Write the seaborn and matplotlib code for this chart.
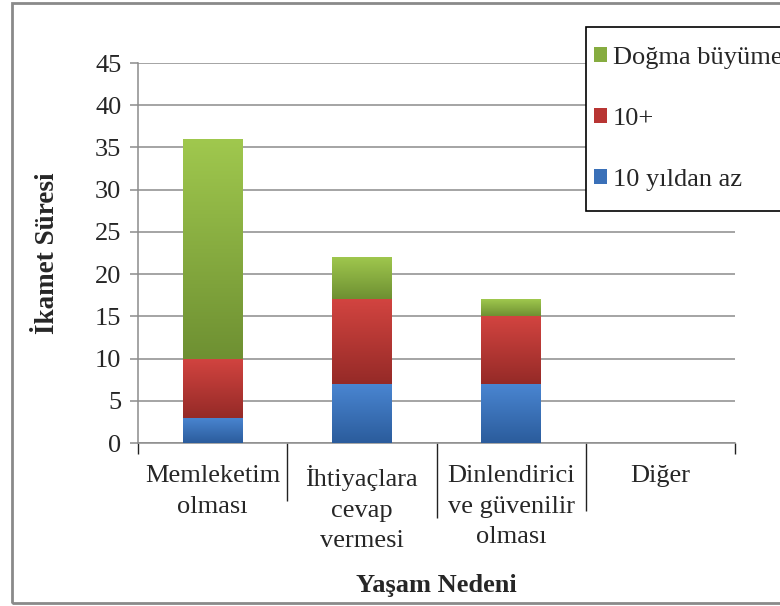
import numpy as np
import pandas as pd
import seaborn as sns
import matplotlib.pyplot as plt
from matplotlib.patches import Patch, Rectangle
from matplotlib.colors import LinearSegmentedColormap

# veriler
categories = ["Memleketim\nolması", "İhtiyaçlara\ncevap\nvermesi",
              "Dinlendirici\nve güvenilir\nolması", "Diğer"]
az_10 = [3, 7, 7, 0]
arti_10 = [7, 10, 8, 0]
dogma = [26, 5, 2, 0]
series_names = ["10 yıldan az", "10+", "Doğma büyüme"]

# renkler: (üst, alt) gradyan
grad_colors = {
    "10 yıldan az": ("#4a86d2", "#2b5c9c"),
    "10+": ("#d24440", "#952a27"),
    "Doğma büyüme": ("#a0c84e", "#6e9032"),
}
legend_colors = {
    "10 yıldan az": "#3a70b8",
    "10+": "#b83533",
    "Doğma büyüme": "#86ac40",
}


def set_config():
    sns.set_style("white")
    plt.rcParams["font.family"] = ["Liberation Serif", "DejaVu Serif"]
    plt.rcParams["axes.unicode_minus"] = False


def add_gradient(ax, patch, top, bottom):
    # bar'ın içini dikey gradyanla doldur
    x0, y0 = patch.get_x(), patch.get_y()
    w, h = patch.get_width(), patch.get_height()
    if h <= 0:
        return
    cmap = LinearSegmentedColormap.from_list("g", [bottom, top])
    grad = np.linspace(0, 1, 256).reshape(-1, 1)
    im = ax.imshow(grad, cmap=cmap, aspect="auto", origin="lower",
                   extent=(x0, x0 + w, y0, y0 + h), zorder=3)
    im.set_clip_path(patch)


def main():
    set_config()
    fig = plt.figure(figsize=(7.8, 6.06), dpi=100)
    ax = fig.add_axes([138 / 780, 1 - 443 / 606, 597 / 780, 380 / 606])

    df = pd.DataFrame({"kategori": categories, "10 yıldan az": az_10,
                       "10+": arti_10, "Doğma büyüme": dogma})
    bottoms = np.zeros(len(categories))
    for name in series_names:
        vals = df[name].to_numpy(dtype=float)
        sns.barplot(x=df["kategori"], y=vals + bottoms, ax=ax, width=0.4,
                    color=grad_colors[name][0], linewidth=0, zorder=2)
        # son çizilen barları kendi segmentine indir
        for p, b, v in zip(ax.patches[-len(categories):], bottoms, vals):
            p.set_y(b)
            p.set_height(v)
            add_gradient(ax, p, *grad_colors[name])
        bottoms = bottoms + vals

    ax.set_xlim(-0.5, len(categories) - 0.5)
    ax.set_ylim(0, 45)
    ax.set_yticks(range(0, 46, 5))
    ax.yaxis.grid(True, color="#8c8c8c", linewidth=1.1)
    ax.set_axisbelow(True)

    for s in ["top", "right"]:
        ax.spines[s].set_visible(False)
    for s in ["left", "bottom"]:
        ax.spines[s].set_color("#8c8c8c")
        ax.spines[s].set_linewidth(1.1)

    ax.tick_params(axis="y", length=6, width=1.1, color="#8c8c8c",
                   labelsize=19, pad=6, left=True)
    ax.tick_params(axis="x", which="major", length=0, labelsize=19, pad=16)
    for lbl in ax.get_xticklabels():
        lbl.set_linespacing(1.5)
        lbl.set_verticalalignment("top")

    # kategori ayırıcı çentikler
    ax.set_xticks(np.arange(-0.5, len(categories), 1), minor=True)
    ax.tick_params(axis="x", which="minor", length=8, width=1.0,
                   color="#222222", bottom=True)
    tick_len = [8, 42, 54, 49, 8]
    for t, L in zip(ax.xaxis.get_minor_ticks(), tick_len):
        t.tick1line.set_markersize(L)

    ax.set_xlabel("Yaşam Nedeni", fontsize=19, fontweight="bold", labelpad=16)
    ax.set_ylabel("İkamet Süresi", fontsize=19.5, fontweight="bold", labelpad=25)

    # legend çerçevesi (beyaz zemin, grid çizgilerini örter)
    fig.add_artist(Rectangle((586 / 780, 1 - 211 / 606), 1.0, 184 / 606,
                             transform=fig.transFigure, facecolor="white",
                             edgecolor="black", linewidth=1.2, zorder=2))

    handles = [Patch(facecolor=legend_colors[n], edgecolor="none")
               for n in series_names[::-1]]
    leg = fig.legend(handles, series_names[::-1], loc="center left",
                     bbox_to_anchor=(594 / 780, 1 - 119 / 606),
                     fontsize=19, frameon=False, labelspacing=1.47,
                     handlelength=0.5, handleheight=0.5, handletextpad=0.22,
                     borderpad=0, borderaxespad=0)
    leg.set_zorder(3)

    # dış çerçeve
    fig.add_artist(Rectangle((12 / 780, 3 / 606), 1.0, 600 / 606,
                             transform=fig.transFigure, fill=False,
                             edgecolor="#8a8a8a", linewidth=2.0, zorder=4))

    fig.savefig("out.png", dpi=100)


if __name__ == "__main__":
    main()
